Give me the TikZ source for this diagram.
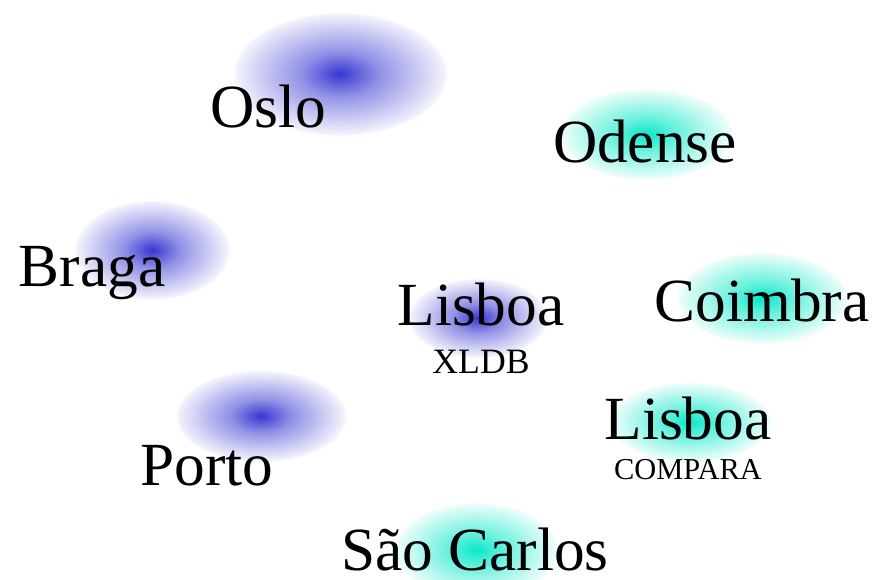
\documentclass[tikz,border=0pt]{standalone}
\usepackage{fontspec}
\setmainfont{Liberation Serif}
\definecolor{blobblue}{RGB}{55,55,210}
\definecolor{blobcyan}{RGB}{10,232,200}
\pgfdeclareradialshading{blueglow}{\pgfpoint{0bp}{0bp}}{color(0bp)=(blobblue);
  color(9bp)=(blobblue!55!white); color(24bp)=(blobblue!7!white); color(25bp)=(white); color(50bp)=(white)}
\pgfdeclareradialshading{cyanglow}{\pgfpoint{0bp}{0bp}}{color(0bp)=(blobcyan);
  color(9bp)=(blobcyan!60!white); color(24bp)=(blobcyan!8!white); color(25bp)=(white); color(50bp)=(white)}
\tikzset{
  blueblob/.style={shading=blueglow},
  cyanblob/.style={shading=cyanglow},
  city/.style={inner sep=0pt, anchor=base, font=\fontsize{34.9}{40}\selectfont},
  group/.style={inner sep=0pt, anchor=base, font=\fontsize{#1}{22}\selectfont}
}

\begin{document}
\begin{tikzpicture}[x=0.2mm, y=-0.2mm]
    \useasboundingbox (0,0) rectangle (874,579);
    % blobs
    \shade[blueblob] (340,74) ellipse (108 and 62);
    \shade[cyanblob] (646,134) ellipse (87 and 46);
    \shade[blueblob] (152,250) ellipse (78 and 50);
    \shade[blueblob] (478,318) ellipse (70 and 40);
    \shade[cyanblob] (762,298) ellipse (86 and 46);
    \shade[cyanblob] (690,422) ellipse (82 and 40);
    \shade[blueblob] (261,416) ellipse (86 and 46);
    \shade[cyanblob] (476,550) ellipse (82 and 48);
    % labels
    \node[city] (oslo) at (268,127) {Oslo};
    \node[city] (odense) at (645,162) {Odense};
    \node[city] (braga) at (92,286) {Braga};
    \node[city] (lisboaxldb) at (481,325) {Lisboa};
    \node[group=20.3] (xldb) at (481,373) {XLDB};
    \node[city] (coimbra) at (762,321) {Coimbra};
    \node[city] (lisboacompara) at (688,439) {Lisboa};
    \node[group=17.3] (compara) at (688,479) {COMPARA};
    \node[city] (porto) at (207,485) {Porto};
    \node[city] (saocarlos) at (475,570) {São Carlos};
\end{tikzpicture}
\end{document}
